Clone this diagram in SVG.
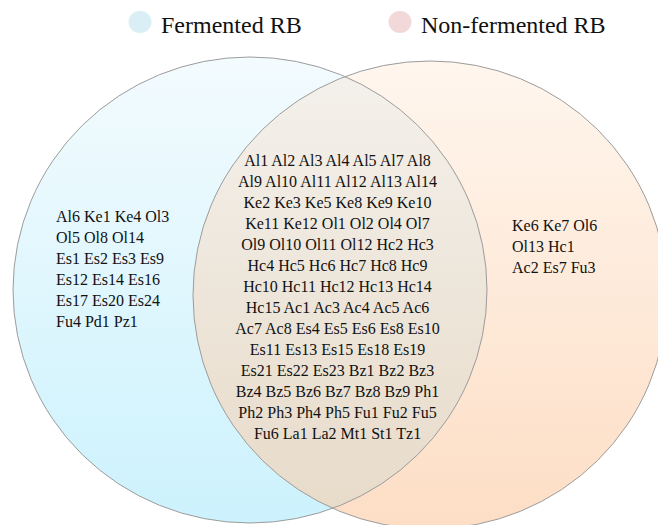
<svg xmlns="http://www.w3.org/2000/svg" width="658" height="525" viewBox="0 0 658 525">
<style>
.lg{font-family:'Liberation Serif','Times New Roman',serif;font-size:24px;fill:#111}
.t{font-family:'Liberation Serif','Times New Roman',serif;font-size:16px;fill:#111}
.c{text-anchor:middle}
.edge{fill:none;stroke:#9c9c9c;stroke-width:1}
</style>
<defs>
<linearGradient id="gL" x1="0" y1="0" x2="0" y2="1">
<stop offset="0" stop-color="#f3fbfe"/>
<stop offset="1" stop-color="#ccf2fd"/>
</linearGradient>
<linearGradient id="gR" x1="0" y1="0" x2="0" y2="1">
<stop offset="0" stop-color="#fff6ee"/>
<stop offset="1" stop-color="#fddec5"/>
</linearGradient>
<linearGradient id="gI" x1="0" y1="0" x2="0" y2="1">
<stop offset="0" stop-color="#f4f1ec"/>
<stop offset="1" stop-color="#e7dac8"/>
</linearGradient>
<clipPath id="clipL">
<ellipse cx="250" cy="290" rx="237" ry="233"/>
</clipPath>
</defs>
<g id="legend">
<ellipse cx="140" cy="22" rx="11.5" ry="11" fill="#d9eef5"/>
<text class="lg" x="161" y="33">Fermented RB</text>
<ellipse cx="400" cy="22" rx="11.5" ry="11" fill="#f2d8d9"/>
<text class="lg" x="421" y="33">Non-fermented RB</text>
</g>
<g id="fermented">
<ellipse cx="250" cy="290" rx="237" ry="233" fill="url(#gL)"/>
</g>
<g id="non-fermented">
<ellipse cx="430" cy="295" rx="237" ry="234" fill="url(#gR)"/>
</g>
<g id="shared">
<ellipse cx="430" cy="295" rx="237" ry="234" fill="url(#gI)" clip-path="url(#clipL)"/>
</g>
<g id="outlines">
<ellipse class="edge" cx="250" cy="290" rx="237" ry="233"/>
<ellipse class="edge" cx="430" cy="295" rx="237" ry="234"/>
</g>
<g id="fermented-only-labels">
<text class="t" x="56" y="221.5">Al6 Ke1 Ke4 Ol3</text>
<text class="t" x="56" y="242.5">Ol5 Ol8 Ol14</text>
<text class="t" x="56" y="263.5">Es1 Es2 Es3 Es9</text>
<text class="t" x="56" y="284.5">Es12 Es14 Es16</text>
<text class="t" x="56" y="305.5">Es17 Es20 Es24</text>
<text class="t" x="56" y="326.5">Fu4 Pd1 Pz1</text>
</g>
<g id="shared-labels">
<text class="t c" x="337.5" y="165.5">Al1 Al2 Al3 Al4 Al5 Al7 Al8</text>
<text class="t c" x="337.5" y="186.5">Al9 Al10 Al11 Al12 Al13 Al14</text>
<text class="t c" x="337.5" y="207.5">Ke2 Ke3 Ke5 Ke8 Ke9 Ke10</text>
<text class="t c" x="337.5" y="228.5">Ke11 Ke12 Ol1 Ol2 Ol4 Ol7</text>
<text class="t c" x="337.5" y="249.5">Ol9 Ol10 Ol11 Ol12 Hc2 Hc3</text>
<text class="t c" x="337.5" y="270.5">Hc4 Hc5 Hc6 Hc7 Hc8 Hc9</text>
<text class="t c" x="337.5" y="291.5">Hc10 Hc11 Hc12 Hc13 Hc14</text>
<text class="t c" x="337.5" y="312.5">Hc15 Ac1 Ac3 Ac4 Ac5 Ac6</text>
<text class="t c" x="337.5" y="333.5">Ac7 Ac8 Es4 Es5 Es6 Es8 Es10</text>
<text class="t c" x="337.5" y="354.5">Es11 Es13 Es15 Es18 Es19</text>
<text class="t c" x="337.5" y="375.5">Es21 Es22 Es23 Bz1 Bz2 Bz3</text>
<text class="t c" x="337.5" y="396.5">Bz4 Bz5 Bz6 Bz7 Bz8 Bz9 Ph1</text>
<text class="t c" x="337.5" y="417.5">Ph2 Ph3 Ph4 Ph5 Fu1 Fu2 Fu5</text>
<text class="t c" x="337.5" y="438.5">Fu6 La1 La2 Mt1 St1 Tz1</text>
</g>
<g id="non-fermented-only-labels">
<text class="t" x="512" y="230.5">Ke6 Ke7 Ol6</text>
<text class="t" x="512" y="251.5">Ol13 Hc1</text>
<text class="t" x="512" y="272.5">Ac2 Es7 Fu3</text>
</g>
</svg>
